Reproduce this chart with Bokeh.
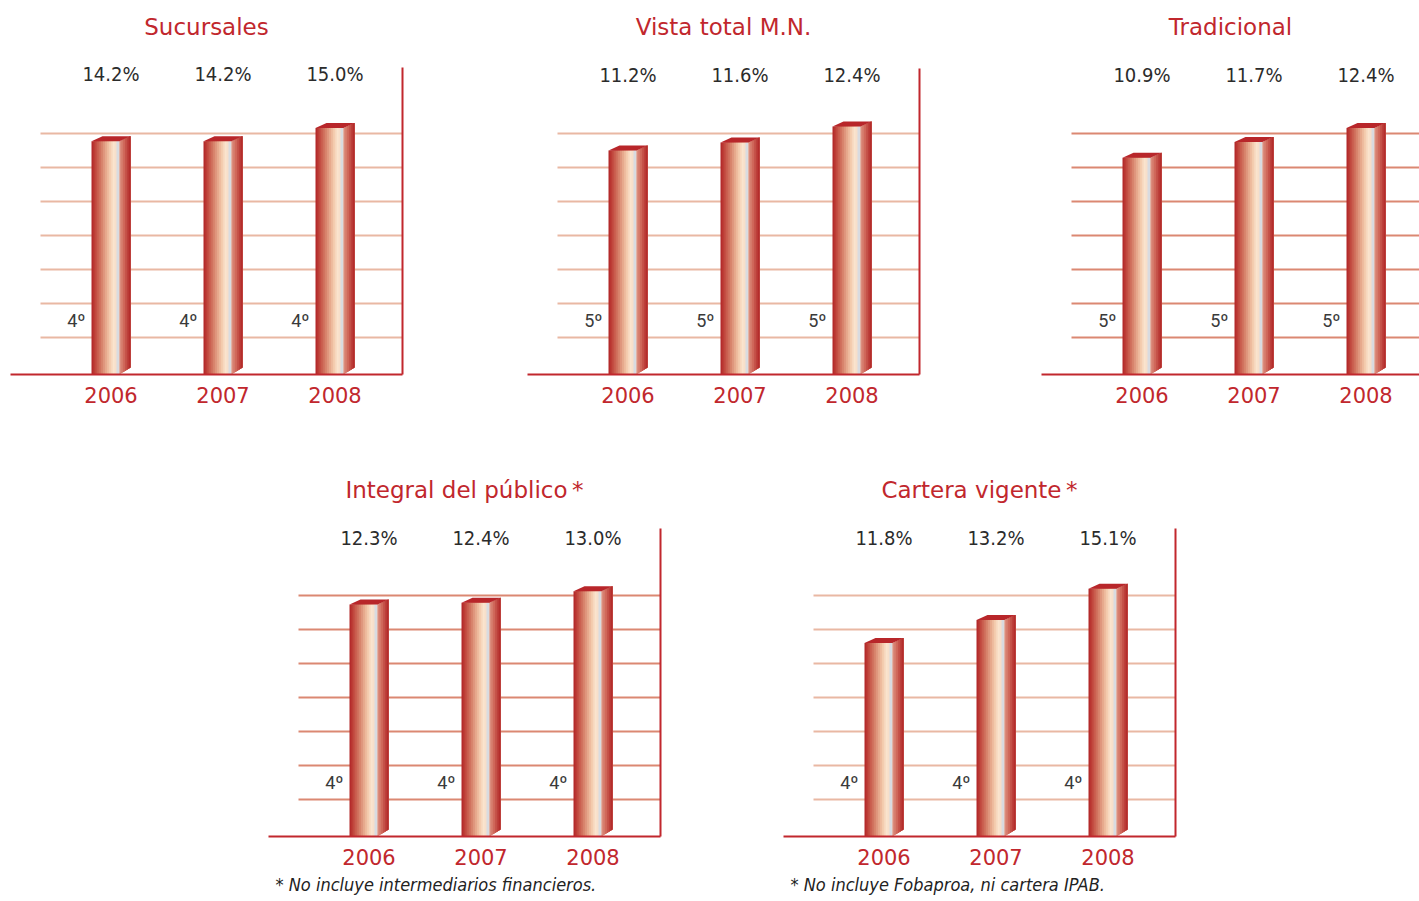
from bokeh.plotting import figure
from bokeh.layouts import row, column
from bokeh.models import Range1d, FixedTicker, Title, ColumnDataSource, LabelSet
from bokeh.core.properties import value
from bokeh.embed import file_html
from bokeh.resources import INLINE

# ---------------- data ----------------
years = ["2006", "2007", "2008"]

title_sucursales = "Sucursales"
title_vista = "Vista total M.N."
title_tradicional = "Tradicional"
title_integral = "Integral del público\u2009*"
title_cartera = "Cartera vigente\u2009*"

share_sucursales = [14.2, 14.2, 15.0]
share_vista = [11.2, 11.6, 12.4]
share_tradicional = [10.9, 11.7, 12.4]
share_integral = [12.3, 12.4, 13.0]
share_cartera = [11.8, 13.2, 15.1]

rank_sucursales = ["4º", "4º", "4º"]
rank_vista = ["5º", "5º", "5º"]
rank_tradicional = ["5º", "5º", "5º"]
rank_integral = ["4º", "4º", "4º"]
rank_cartera = ["4º", "4º", "4º"]

note_integral = "* No incluye intermediarios financieros."
note_cartera = "* No incluye Fobaproa, ni cartera IPAB."

# ---------------- style ----------------
RED = "#c1272d"
TXT = "#2b2b2b"
TITLE_FONT = "DejaVu Sans"
NUM_FONT = "DejaVu Sans Condensed"
RANK_FONT = "Roboto"
SX = 112.0          # px per category step
CENTER0 = 100.5     # px from frame left to first category
GRID_PX = [37, 71, 105, 139, 173, 207, 241]
LIGHT_GRID = "#e9b8a3"
DARK_GRID = "#db8872"

FRONT_STOPS = [(0.0, (176, 34, 38)), (0.12, (190, 62, 55)), (0.4, (214, 128, 104)),
               (0.72, (243, 200, 170)), (0.88, (250, 228, 206)), (1.0, (246, 220, 200))]
SIDE_STOPS = [(0.0, (222, 150, 135)), (0.35, (210, 110, 95)), (1.0, (176, 36, 36))]
GREY = "#d9dbe0"
TOP_COLOR = "#b8262a"


def interp(stops, t):
    for (t0, c0), (t1, c1) in zip(stops[:-1], stops[1:]):
        if t0 <= t <= t1:
            f = 0 if t1 == t0 else (t - t0) / (t1 - t0)
            c = tuple(int(round(a + (b - a) * f)) for a, b in zip(c0, c1))
            return "#%02x%02x%02x" % c
    c = stops[-1][1]
    return "#%02x%02x%02x" % c


def make_chart(title, vals, ranks, k, frame_w, frame_h, axis_h, left, right, top, bottom,
               label_up, note=None, show_right=True, grid_color=LIGHT_GRID):
    x_start = -CENTER0 / SX
    x_end = x_start + frame_w / SX
    y_end = frame_h / k
    p = figure(frame_width=frame_w, frame_height=frame_h,
               x_range=Range1d(x_start, x_end), y_range=Range1d(0, y_end),
               output_backend="svg", toolbar_location=None,
               min_border_left=left, min_border_right=right,
               min_border_top=top, min_border_bottom=bottom,
               y_axis_location="right" if show_right else None,
               outline_line_color=None, background_fill_color="white",
               border_fill_color="white")
    p.grid.visible = False

    # title
    p.title.text = title
    p.title.align = "center"
    p.title.text_color = RED
    p.title.text_font = TITLE_FONT
    p.title.text_font_size = "23px"
    p.title.text_font_style = "normal"
    p.title.standoff = 16

    # x axis
    xa = p.xaxis[0]
    xa.ticker = FixedTicker(ticks=list(range(len(years))))
    xa.major_label_overrides = {i: y for i, y in enumerate(years)}
    xa.axis_line_color = RED
    xa.axis_line_width = 2
    xa.major_tick_line_color = None
    xa.minor_tick_line_color = None
    xa.major_label_text_color = RED
    xa.major_label_text_font = TITLE_FONT
    xa.major_label_text_font_size = "21px"
    xa.major_label_standoff = 6

    if show_right:
        ya = p.yaxis[0]
        ya.ticker = FixedTicker(ticks=[])
        ya.bounds = (0, axis_h / k)
        ya.axis_line_color = RED
        ya.axis_line_width = 2
        ya.major_tick_line_color = None
        ya.minor_tick_line_color = None
        ya.major_label_text_font_size = "0px"

    # grid lines
    gy = [g / k for g in GRID_PX]
    p.segment(x0=[x_start + 30 / SX] * len(gy), x1=[x_end] * len(gy), y0=gy, y1=gy,
              line_color=grid_color, line_width=2)

    # bars: front strips, layered so no seams appear
    n_front = 13
    fl_px, grey_px, side_px = -19.5, 5.5, 8.5
    strip_w = (grey_px - fl_px) / n_front
    L, R, T, B, C = [], [], [], [], []
    for i, v in enumerate(vals):
        for s in range(n_front):
            a = fl_px + s * strip_w
            L.append(i + a / SX)
            R.append(i + side_px / SX)
            T.append(v)
            B.append(0)
            C.append(interp(FRONT_STOPS, (s + 0.5) / n_front))
        L.append(i + grey_px / SX)
        R.append(i + side_px / SX)
        T.append(v)
        B.append(0)
        C.append(GREY)
    p.quad(left=L, right=R, top=T, bottom=B, fill_color=C, line_color=None)

    # side face strips (slanted), layered
    depth, dy_top, dy_bot = 11.0, 5.0, 7.0
    n_side = 6
    XS, YS, SC = [], [], []
    for i, v in enumerate(vals):
        for s in range(n_side):
            a = depth * s / n_side
            b = depth
            xa0 = i + (side_px + a) / SX
            xb0 = i + (side_px + b) / SX
            XS.append([xa0, xb0, xb0, xa0])
            YS.append([v + dy_top * a / depth / k, v + dy_top * b / depth / k,
                       dy_bot * b / depth / k, dy_bot * a / depth / k])
            SC.append(interp(SIDE_STOPS, (s + 0.5) / n_side))
        # top face
        XS.append([i + fl_px / SX, i + side_px / SX, i + (side_px + depth) / SX,
                   i + (fl_px + depth) / SX])
        YS.append([v, v, v + dy_top / k, v + dy_top / k])
        SC.append(TOP_COLOR)
    p.patches(xs=XS, ys=YS, fill_color=SC, line_color=None)

    # rank labels
    p.text(x=[i + fl_px / SX for i in range(len(vals))], y=[0] * len(vals), text=ranks,
           x_offset=-6, y_offset=-54, text_align="right", text_baseline="middle",
           text_font=value(RANK_FONT), text_font_size="18px", text_color="#3a3a3a")

    # value labels
    src = ColumnDataSource(dict(x=list(range(len(vals))), y=[0] * len(vals),
                                t=["%.1f%%" % v for v in vals]))
    p.add_layout(LabelSet(x="x", y="y", text="t", source=src, y_offset=label_up,
                          text_align="center", text_baseline="middle",
                          text_font=value(NUM_FONT), text_font_size="20px",
                          text_color=TXT))

    if note:
        p.add_layout(Title(text=note, align="left", offset=7, text_font=NUM_FONT,
                           text_font_style="italic", text_font_size="18px",
                           text_color="#222222", standoff=9), "below")
    return p


p1 = make_chart(title_sucursales, share_sucursales, rank_sucursales, 16.43, 392, 327, 307,
                10, 115, 47, 89, 301)
p2 = make_chart(title_vista, share_vista, rank_vista, 20.01, 392, 327, 306,
                10, 122, 47, 89, 300)
p3 = make_chart(title_tradicional, share_tradicional, rank_tradicional, 19.88, 378, 327, 306,
                0, 0, 47, 89, 300, show_right=False, grid_color=DARK_GRID)
p4 = make_chart(title_integral, share_integral, rank_integral, 18.86, 392, 326, 308,
                268, 123, 47, 50, 299, note=note_integral, grid_color=DARK_GRID)
p5 = make_chart(title_cartera, share_cartera, rank_cartera, 16.40, 392, 326, 308,
                0, 20, 47, 50, 299, note=note_cartera)

layout = column(row(p1, p2, p3), row(p4, p5))
open("out.html", "w").write(file_html(layout, INLINE))
